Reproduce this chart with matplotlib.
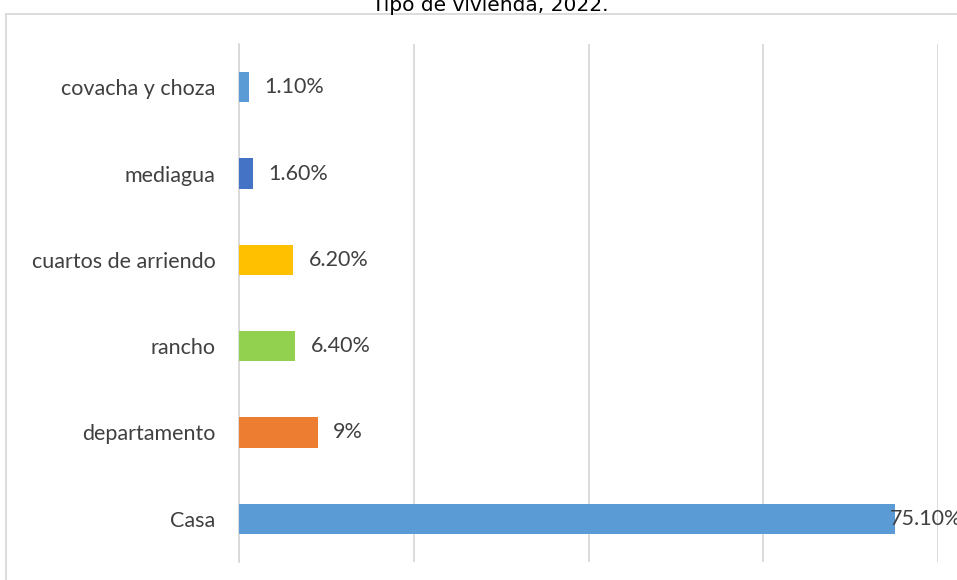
import matplotlib.pyplot as plt
from matplotlib.patches import Rectangle

# housing type shares (%), bottom to top
categories = ["Casa", "departamento", "rancho", "cuartos de arriendo", "mediagua", "covacha y choza"]
values = [75.1, 9.0, 6.4, 6.2, 1.6, 1.1]
value_labels = ["75.10%", "9%", "6.40%", "6.20%", "1.60%", "1.10%"]
colors = ["#5B9BD5", "#ED7D31", "#92D050", "#FFC000", "#4472C4", "#5B9BD5"]

plt.rcParams["font.family"] = ["Lato", "DejaVu Sans"]
text_color = "#404040"
grid_color = "#D9D9D9"

fig = plt.figure(figsize=(9.57, 5.80), dpi=100)
W, H = 957, 580

# outer chart border (runs off the right and bottom edge)
fig.patches.append(Rectangle((6 / W, -0.1), 1.0, 1 - 14 / H + 0.1, transform=fig.transFigure,
                             fill=False, edgecolor=grid_color, linewidth=1.3))

fig.text(490 / W, 1 - 11 / H, "Tipo de vivienda, 2022.", ha="center", va="baseline",
         fontsize=14.5, color="#000000", family=["DejaVu Sans"])

ax = fig.add_axes([239 / W, 1 - 562 / H, (938 - 239) / W, (562 - 44) / H])
ypos = list(range(len(categories)))
ax.barh(ypos, values, height=0.35, color=colors, zorder=3)

ax.set_xlim(0, 80)
ax.set_ylim(-0.5, len(categories) - 0.5)
ax.set_xticks([0, 20, 40, 60, 80])
ax.set_xticklabels([])
ax.tick_params(axis="x", length=0)
ax.grid(axis="x", color=grid_color, linewidth=1.3, zorder=0)
ax.set_yticks(ypos)
ax.set_yticklabels(categories, fontsize=15.5, color=text_color)
ax.tick_params(axis="y", length=0, pad=17)
for side in ["top", "right", "bottom"]:
    ax.spines[side].set_visible(False)
ax.spines["left"].set_color(grid_color)
ax.spines["left"].set_linewidth(1.3)

for y, v, lab in zip(ypos, values, value_labels):
    if v > 70:
        ax.text(v - 0.6, y, lab, va="center", ha="left", fontsize=15.5, color=text_color,
                zorder=4, clip_on=False)
    else:
        ax.text(v + 1.8, y, lab, va="center", ha="left", fontsize=15.5, color=text_color)

fig.savefig("out.png", dpi=100)
